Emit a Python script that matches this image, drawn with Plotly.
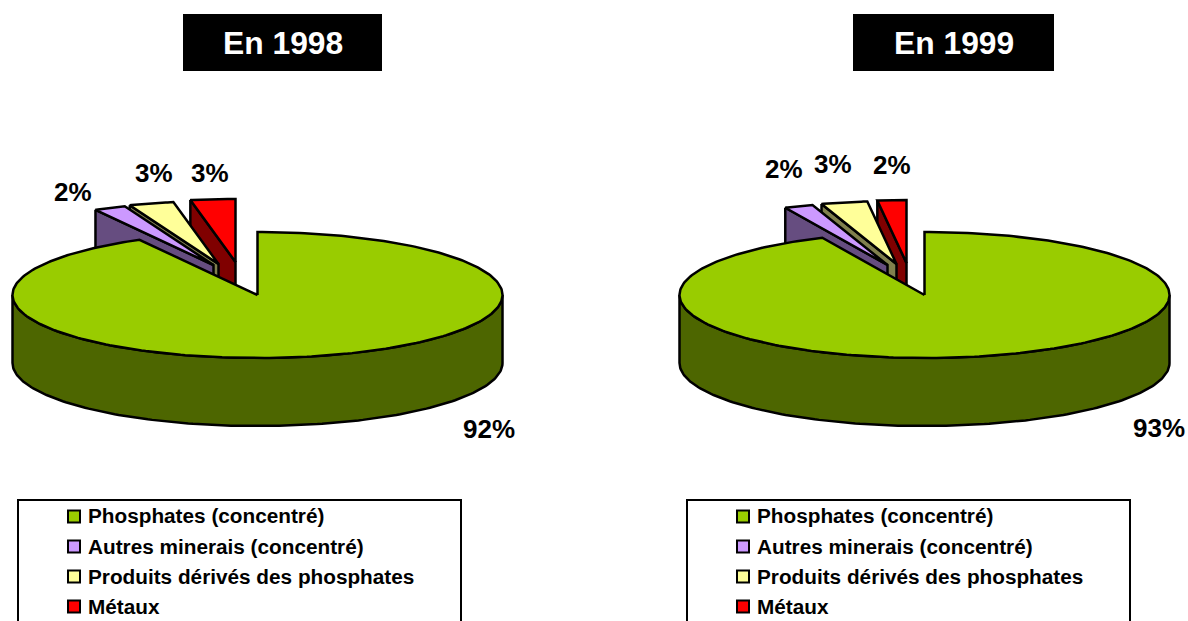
import numpy as np
import plotly.graph_objects as go

# ---- data ----
categories = ["Phosphates (concentré)", "Autres minerais (concentré)",
              "Produits dérivés des phosphates", "Métaux"]
years = ["En 1998", "En 1999"]
values_1998 = [92.0, 2.1, 2.95, 2.95]
values_1999 = [93.15, 1.9, 3.05, 1.9]

# ---- style / layout ----
W, H = 1188, 621
top_colors = ["#99CC00", "#CC99FF", "#FFFF99", "#FF0000"]
side_colors = ["#4D6600", "#664D80", "#80804D", "#800000"]
RX, RY, DEPTH = 245, 63, 68
panels = [
    dict(cx=257.5, cy=295, values=values_1998, title=years[0],
         title_box=(183, 382), legend_box=(18, 461), swatch=74, text=86,
         offsets=[(0, 0), (-44, -30), (-39, -31), (-22, -33)],
         label_xy=[(489, 429), (73, 192), (154, 173), (210, 173)]),
    dict(cx=924.5, cy=295, values=values_1999, title=years[1],
         title_box=(853, 1054), legend_box=(687, 1130), swatch=743, text=755,
         offsets=[(0, 0), (-37, -30), (-28, -31), (-18, -32)],
         label_xy=[(1159, 428), (784, 169), (833, 164), (892, 165)]),
]
LEGEND_Y = [516.5, 546.5, 576.5, 606.5]
LEGEND_TEXT_Y = [515.5, 546, 576.5, 606.5]
FONT = "Liberation Sans, Arial, sans-serif"


def ell(cx, cy, deg):
    a = np.radians(deg)
    return cx + RX * np.sin(a), cy - RY * np.cos(a)


def poly(fig, xs, ys, color):
    fig.add_trace(go.Scatter(x=list(xs), y=list(ys), mode="lines", fill="toself",
                             fillcolor=color, line=dict(color="black", width=2.5, shape="linear"),
                             hoverinfo="skip", showlegend=False))


fig = go.Figure()
shapes, annotations = [], []

for p in panels:
    total = sum(p["values"])
    # slices run clockwise from 12 o'clock; cumulative angles come from the values
    cum = np.cumsum([0] + list(p["values"])) / total * 360

    # exploded small slices back to front, the large slice is painted over them
    for i in (3, 2, 1):
        dx, dy = p["offsets"][i]
        cx, cy = p["cx"] + dx, p["cy"] + dy
        a0, a1 = cum[i], cum[i + 1]
        ox, oy = ell(cx, cy, a0)
        # side wall along the leading radial edge
        poly(fig, [ox, cx, cx, ox, ox], [oy, cy, cy + DEPTH, oy + DEPTH, oy], side_colors[i])
        t = np.linspace(a0, a1, 24)
        ax, ay = ell(cx, cy, t)
        poly(fig, [cx, *ax, cx], [cy, *ay, cy], top_colors[i])

    # large slice: outer wall, then top
    cx, cy = p["cx"], p["cy"]
    t = np.linspace(90, 270, 160)
    wx, wy = ell(cx, cy, t)
    poly(fig, [*wx, *wx[::-1], wx[0]], [*wy, *(wy[::-1] + DEPTH), wy[0]], side_colors[0])
    t = np.linspace(cum[0], cum[1], 300)
    ax, ay = ell(cx, cy, t)
    poly(fig, [cx, *ax, cx], [cy, *ay, cy], top_colors[0])

    # percentage labels
    for v, (lx, ly) in zip(p["values"], p["label_xy"]):
        annotations.append(dict(x=lx, y=ly, text=f"{round(v)}%", showarrow=False,
                                xanchor="center", yanchor="middle",
                                font=dict(family=FONT, size=26, color="black", weight="bold")))

    # title box
    x0, x1 = p["title_box"]
    shapes.append(dict(type="rect", x0=x0, x1=x1, y0=14, y1=71, xref="x", yref="y",
                       fillcolor="black", line=dict(color="black", width=0)))
    annotations.append(dict(x=(x0 + x1) / 2, y=43, text=p["title"], showarrow=False,
                            xanchor="center", yanchor="middle",
                            font=dict(family=FONT, size=31.8, color="white", weight="bold")))

    # legend box (runs off the bottom of the picture)
    x0, x1 = p["legend_box"]
    shapes.append(dict(type="rect", x0=x0, x1=x1, y0=500, y1=640, xref="x", yref="y",
                       fillcolor="white", line=dict(color="black", width=2), layer="below"))
    for name, col, ly, ty in zip(categories, top_colors, LEGEND_Y, LEGEND_TEXT_Y):
        fig.add_trace(go.Scatter(x=[p["swatch"]], y=[ly], mode="markers",
                                 marker=dict(symbol="square", size=12, color=col,
                                             line=dict(color="black", width=2)),
                                 hoverinfo="skip", showlegend=False))
        annotations.append(dict(x=p["text"], y=ty, text=name, showarrow=False,
                                xanchor="left", yanchor="middle",
                                font=dict(family=FONT, size=20.75, color="black", weight="bold")))

fig.update_layout(
    width=W, height=H, autosize=False,
    margin=dict(l=0, r=0, t=0, b=0, pad=0),
    paper_bgcolor="white", plot_bgcolor="white",
    xaxis=dict(range=[0, W], visible=False, fixedrange=True),
    yaxis=dict(range=[H, 0], visible=False, fixedrange=True),
    shapes=shapes, annotations=annotations, showlegend=False,
)

fig.write_html("out.html", config={"displayModeBar": False},
               post_script="document.body.style.margin='0';")
